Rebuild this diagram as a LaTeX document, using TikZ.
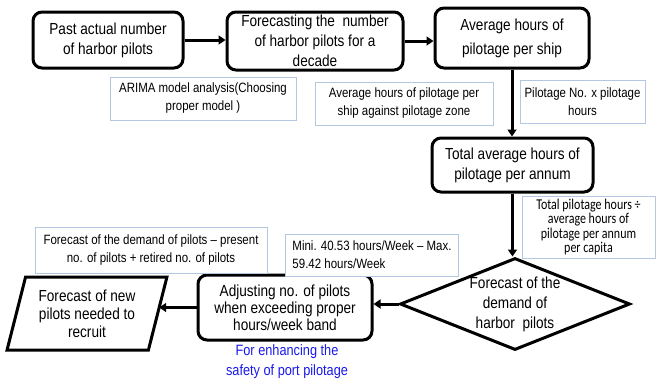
\documentclass[tikz,border=0pt]{standalone}
\usepackage{fontspec}
\setmainfont{Liberation Sans}
\newfontfamily\narrowfont{Liberation Sans}[FakeStretch=0.85]
\newfontfamily\capitafont{Carlito}[FakeStretch=0.8]
\usetikzlibrary{arrows.meta,positioning,shapes.geometric}
\definecolor{noteline}{RGB}{180,199,225}
\definecolor{safetyblue}{RGB}{25,25,235}

\begin{document}
\begin{tikzpicture}[x=1pt,y=-1pt,>={Triangle[length=7pt,width=9pt]},
    stage/.style={draw,line width=3pt,rounded corners=9pt,align=center,inner sep=1pt,
        font=\narrowfont\fontsize{16}{20}\selectfont},
    note/.style={draw=noteline,line width=0.8pt,fill=white,align=center,inner sep=1pt,
        font=\narrowfont\fontsize{13.5}{18}\selectfont},
    link/.style={line width=3pt,->}]
    \useasboundingbox (0,0) rectangle (659,384);

    % main flow
    \node[stage,minimum width=150pt,minimum height=56pt] (past) at (108,40) {Past actual number\\of harbor pilots};
    \node[stage,minimum width=176pt,minimum height=58pt] (decade) at (315,41) {Forecasting the \ number\\of harbor pilots for a\\decade};
    \node[stage,minimum width=154pt,minimum height=60pt,font=\narrowfont\fontsize{16}{24}\selectfont] (pership) at (512,38) {Average hours of\\pilotage per ship};
    \node[stage,minimum width=161pt,minimum height=54pt] (annum) at (512.5,165) {Total average hours of\\pilotage per annum};
    \node[draw,line width=3pt,diamond,aspect=2.5,minimum width=230pt,minimum height=92pt,inner sep=0pt,align=center,
        font=\narrowfont\fontsize{16}{20}\selectfont] (demand) at (515,304) {Forecast of the\\demand of\\harbor \ pilots};
    \node[stage,minimum width=174pt,minimum height=65pt,font=\narrowfont\fontsize{16}{17}\selectfont] (adjust) at (285,307.5) {Adjusting no. of pilots\\when exceeding proper\\hours/week band};
    \node[draw,line width=3pt,trapezium,trapezium left angle=73,trapezium right angle=107,trapezium stretches,
        minimum width=160pt,minimum height=73pt,inner sep=0pt,align=center,
        font=\narrowfont\fontsize{16}{18}\selectfont] (recruit) at (87,313.5) {Forecast of new\\pilots needed to\\recruit};

    % notes
    \node[note,minimum width=186pt,minimum height=43pt] (arima) at (203,98.5) {ARIMA model analysis(Choosing\\proper model )};
    \node[note,minimum width=178pt,minimum height=43pt] (zone) at (404,103.5) {Average hours of pilotage per\\ship against pilotage zone};
    \node[note,minimum width=125pt,minimum height=43pt] (product) at (582.5,101.5) {Pilotage No. x pilotage\\hours};
    \node[note,minimum width=133pt,minimum height=62pt,font=\capitafont\fontsize{15}{14.5}\selectfont] (capita) at (588.5,227) {Total pilotage hours ÷\\average hours of\\pilotage per annum\\per capita};
    \node[note,minimum width=232pt,minimum height=46pt] (present) at (151,250) {Forecast of the demand of pilots – present\\no. of pilots + retired no. of pilots};
    \node[note,minimum width=173pt,minimum height=42pt,align=left] (band) at (372,255) {Mini. 40.53 hours/Week – Max.\\59.42 hours/Week};
    \node[align=center,text=safetyblue,font=\narrowfont\fontsize{15}{20}\selectfont] (safety) at (287,362) {For enhancing the\\safety of port pilotage};

    % connectors
    \draw[link] (past.east) -- (past.east -| decade.west);
    \draw[link] (decade.east) -- (decade.east -| pership.west);
    \draw[link] (pership.south) -- (pership.south |- annum.north);
    \draw[link] (annum.south) -- (annum.south |- demand.north);
    \draw[link] (demand.west) -- (demand.west -| adjust.east);
    \draw[link] (adjust.west) -- (adjust.west -| recruit.east);
\end{tikzpicture}
\end{document}
